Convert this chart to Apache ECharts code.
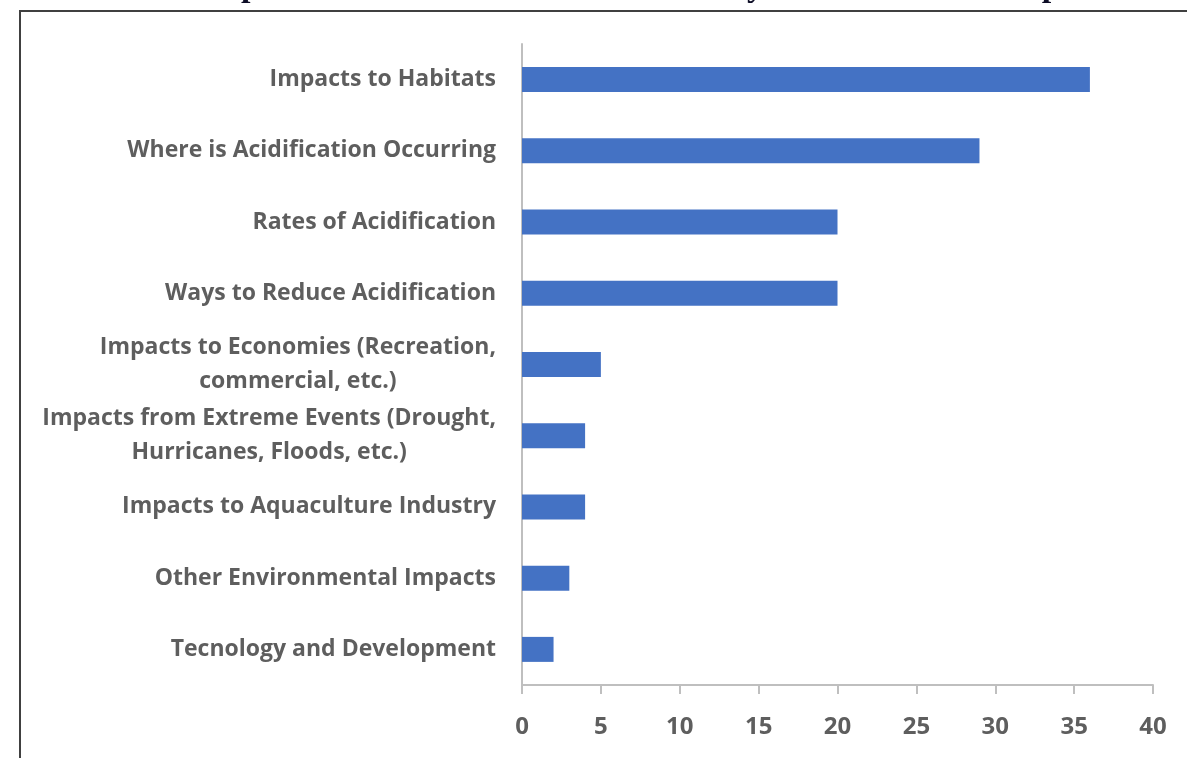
<!DOCTYPE html>
<html>
<head>
<meta charset="utf-8">
<script src="https://cdn.jsdelivr.net/npm/echarts@6/dist/echarts.min.js"></script>
<style>
  html, body { margin: 0; padding: 0; background: #fff; }
  #chart { width: 1187px; height: 758px; }
</style>
</head>
<body>
<div id="chart"></div>
<script>
// categories, top to bottom as shown
const topics = [
    'Impacts to Habitats',
    'Where is Acidification Occurring',
    'Rates of Acidification',
    'Ways to Reduce Acidification',
    'Impacts to Economies (Recreation,\ncommercial, etc.)',
    'Impacts from Extreme Events (Drought,\nHurricanes, Floods, etc.)',
    'Impacts to Aquaculture Industry',
    'Other Environmental Impacts',
    'Tecnology and Development'
]
const votes = [36, 29, 20, 20, 5, 4, 4, 3, 2]
const xTicks = [0, 5, 10, 15, 20, 25, 30, 35, 40]

const chart = echarts.init(document.getElementById('chart'))

const labelFont = 'Open Sans'
const labelColor = '#5e5e5e'

const option = {
    animation: false,
    backgroundColor: '#fff',
    graphic: [
        // page border of the embedded chart
        {
            type: 'rect',
            shape: { x: 20, y: 11, width: 1200, height: 800 },
            style: { fill: 'none', stroke: '#404040', lineWidth: 2 },
            silent: true
        },
        // cut-off question text above the frame
        {
            type: 'text',
            x: 72,
            y: 4,
            style: {
                text: '10. Rank aspects of acidification research that you think should be prioritized',
                font: 'bold 34px "Liberation Serif"',
                verticalAlign: 'bottom',
                fill: '#0d0d26'
            },
            silent: true
        }
    ],
    grid: {
        left: 522,
        right: 34,
        top: 44,
        bottom: 73,
        containLabel: false
    },
    xAxis: {
        type: 'value',
        min: 0,
        max: 40,
        interval: 5,
        splitLine: { show: false },
        axisLine: { show: true, lineStyle: { color: '#bfbfbf', width: 2 } },
        axisTick: { show: true, length: 9, lineStyle: { color: '#bfbfbf', width: 2 } },
        axisLabel: {
            margin: 30,
            color: labelColor,
            fontFamily: labelFont,
            fontWeight: 'bold',
            fontSize: 24,
            formatter: v => (xTicks.includes(v) ? String(v) : '')
        }
    },
    yAxis: {
        type: 'category',
        inverse: true,
        data: topics,
        axisLine: { show: true, lineStyle: { color: '#bfbfbf', width: 2 } },
        axisTick: { show: false },
        axisLabel: {
            margin: 26,
            color: labelColor,
            fontFamily: labelFont,
            fontWeight: 'bold',
            fontSize: 23,
            lineHeight: 34,
            formatter: v => v.split('\n').map(s => '{c|' + s + '}').join('\n'),
            rich: {
                c: {
                    align: 'center',
                    color: labelColor,
                    fontFamily: labelFont,
                    fontWeight: 'bold',
                    fontSize: 23,
                    lineHeight: 34
                }
            }
        }
    },
    series: [
        {
            type: 'bar',
            data: votes,
            barWidth: 25,
            itemStyle: { color: '#4472c4' }
        }
    ]
}

chart.setOption(option)
</script>
</body>
</html>
